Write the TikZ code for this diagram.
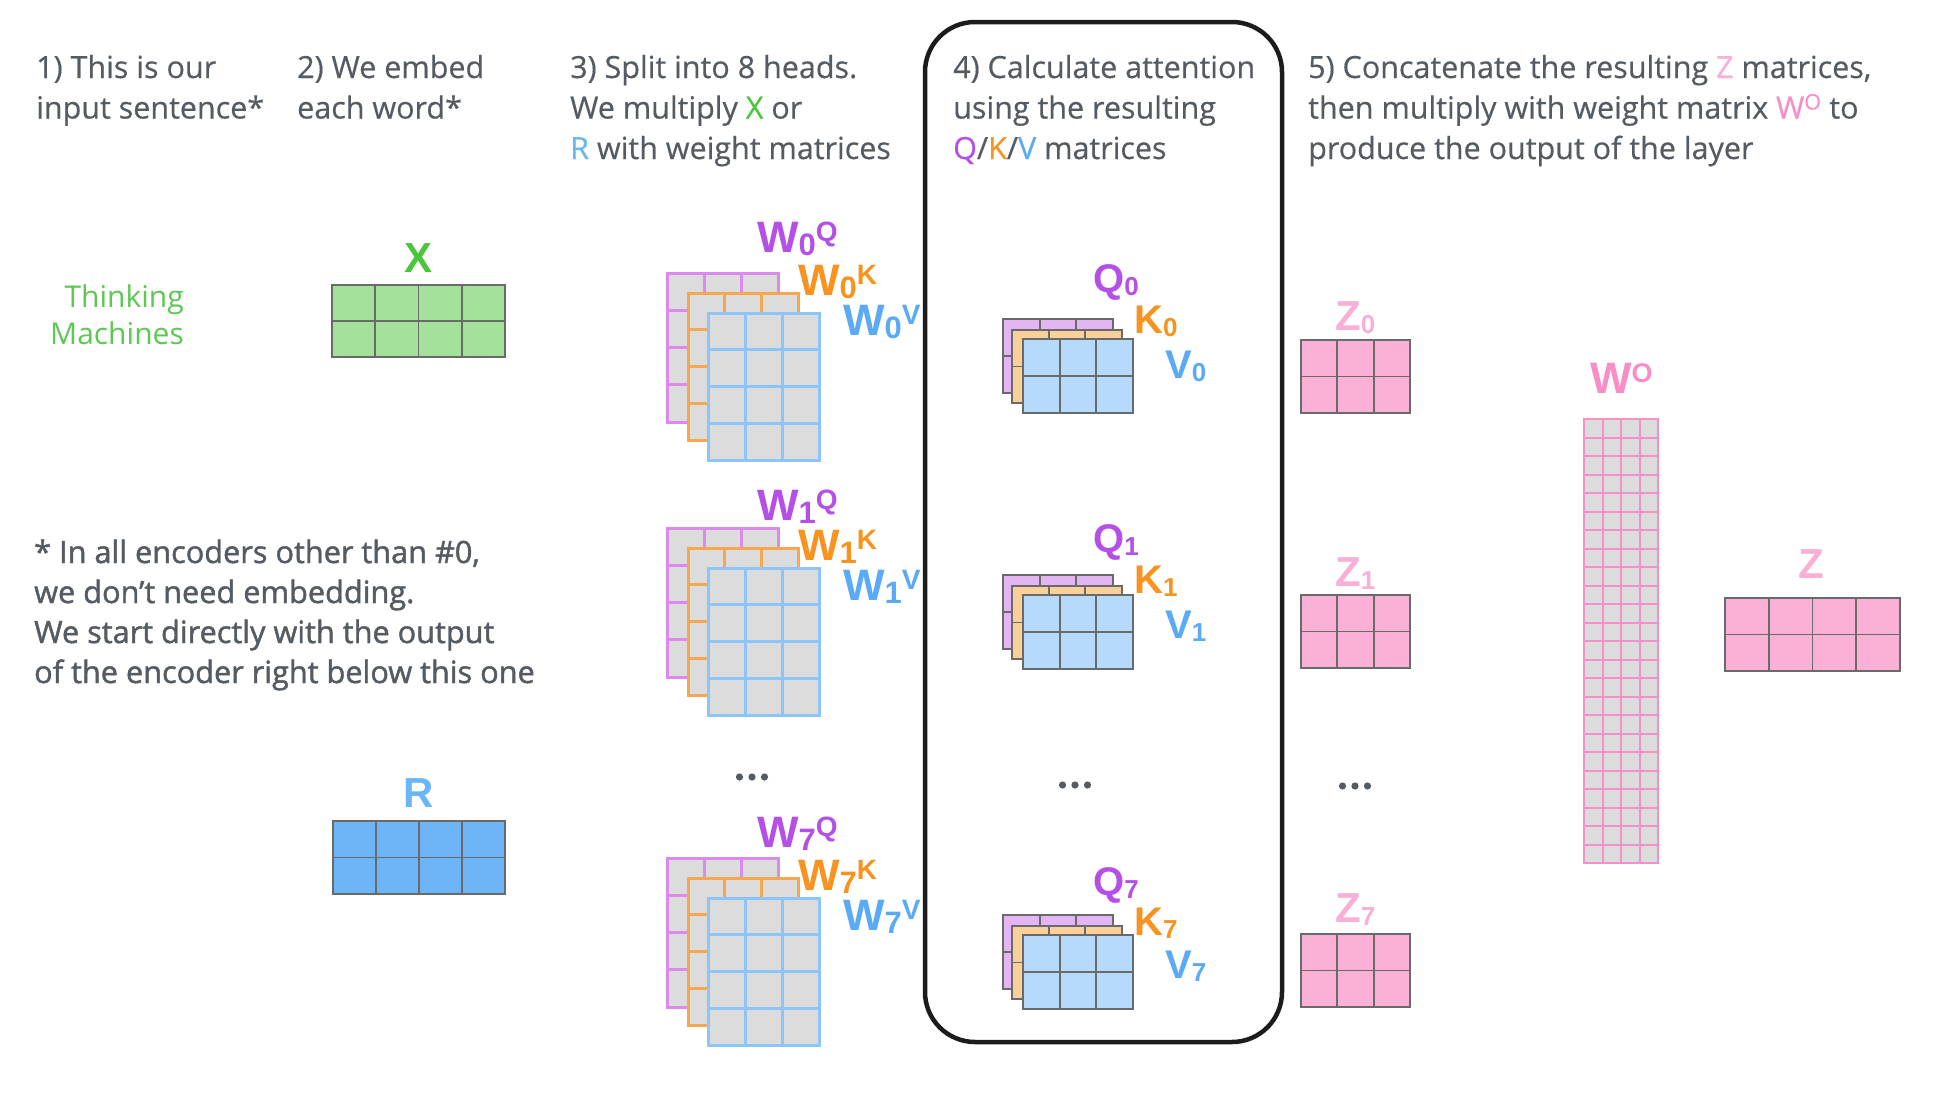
\documentclass[tikz,border=0pt]{standalone}
\usepackage{fontspec}
\setmainfont{Open Sans}
\newfontfamily\lblfont{Liberation Sans}
\newfontfamily\hdrfont[FakeBold=0.4]{Open Sans}
\newfontfamily\notefont[FakeBold=1.4]{Open Sans}
\definecolor{txt}{HTML}{555B63}
\definecolor{tmgreen}{HTML}{5DC853}
\definecolor{xgreen}{HTML}{4CC43C}
\definecolor{xfill}{HTML}{A4E29C}
\definecolor{plbl}{HTML}{B550E6}
\definecolor{pline}{HTML}{D98AEA}
\definecolor{pfill}{HTML}{E3B5F4}
\definecolor{olbl}{HTML}{F7931E}
\definecolor{oline}{HTML}{F5A84E}
\definecolor{ofill}{HTML}{FAD09A}
\definecolor{blbl}{HTML}{5AAAF6}
\definecolor{bline}{HTML}{8DC5FB}
\definecolor{bfill}{HTML}{B5DAFB}
\definecolor{rlbl}{HTML}{6BB7F5}
\definecolor{rfill}{HTML}{6DB5F6}
\definecolor{zlbl}{HTML}{F9B0D4}
\definecolor{zfill}{HTML}{FBB1D6}
\definecolor{wolbl}{HTML}{F98DC6}
\definecolor{woline}{HTML}{F691C8}
\definecolor{gridgray}{HTML}{DCDCDC}
\definecolor{matline}{HTML}{6A6A6A}
\definecolor{boxline}{HTML}{1C1C1C}
% #1 x, #2 y, #3 w, #4 h, #5 cols, #6 rows, #7 fill, #8 line colour, #9 line width
\newcommand{\matgrid}[9]{%
  \fill[#7] ({#1},{#2}) rectangle ++({#3},{#4});
  \pgfmathsetmacro{\mcw}{(#3)/(#5)}%
  \pgfmathsetmacro{\mrh}{(#4)/(#6)}%
  \pgfmathtruncatemacro{\mcl}{#5-1}%
  \pgfmathtruncatemacro{\mrl}{#6-1}%
  \foreach \ii in {1,...,\mcl}{\draw[#8,line width=#9] ({#1+\ii*\mcw},{#2}) -- ++(0,{#4});}
  \foreach \jj in {1,...,\mrl}{\draw[#8,line width=#9] ({#1},{#2+\jj*\mrh}) -- ++({#3},0);}
  \draw[#8,line width=#9] ({#1},{#2}) rectangle ++({#3},{#4});
}
\newcommand{\lsb}[2][30]{{\fontsize{#1}{#1}\selectfont\raisebox{-3pt}{#2}}}
\newcommand{\lsp}[2][28]{{\fontsize{#1}{#1}\selectfont\raisebox{11pt}{#2}}}
\begin{document}
\begin{tikzpicture}[x=1pt,y=-1pt,
  hdr/.style={anchor=base west, inner sep=0, text=txt, font=\hdrfont\fontsize{30.5}{41}\selectfont},
  note/.style={anchor=base west, inner sep=0, text=txt, font=\notefont\fontsize{30.7}{40}\selectfont},
  tm/.style={anchor=base east, inner sep=0, text=tmgreen, font=\fontsize{30}{36}\selectfont},
  lbl/.style={anchor=base west, inner sep=0, font=\lblfont\bfseries\fontsize{44}{44}\selectfont},
  qlbl/.style={anchor=base west, inner sep=0, font=\lblfont\bfseries\fontsize{40}{40}\selectfont},
  clbl/.style={anchor=base, inner sep=0, font=\lblfont\bfseries\fontsize{42}{42}\selectfont},
  zlblst/.style={anchor=base west, inner sep=0, text=zlbl, font=\lblfont\bfseries\fontsize{42}{42}\selectfont},
  dot/.style={fill=txt}
]
\useasboundingbox (0,0) rectangle (1933,1100);
\fill[white] (0,0) rectangle (1933,1100);

% headers
\node[hdr] (h1a) at (36,78) {1) This is our};
\node[hdr] (h1b) at (36,118.5) {input sentence*};
\node[hdr] (h2a) at (297,78) {2) We embed};
\node[hdr] (h2b) at (297,118.5) {each word*};
\node[hdr] (h3a) at (570,78) {3) Split into 8 heads.};
\node[hdr] (h3b) at (570,118.5) {We multiply \textcolor{xgreen}{X} or};
\node[hdr] (h3c) at (570,159) {\textcolor{rlbl}{R} with weight matrices};
\node[hdr] (h4a) at (953,78) {4) Calculate attention};
\node[hdr] (h4b) at (953,118.5) {using the resulting};
\node[hdr] (h4c) at (953,159) {\textcolor{plbl}{Q}/\textcolor{olbl}{K}/\textcolor{blbl}{V} matrices};
\node[hdr] (h5a) at (1308,78) {5) Concatenate the resulting \textcolor{zlbl}{Z} matrices,};
\node[hdr] (h5b) at (1308,118.5) {then multiply with weight matrix \textcolor{wolbl}{W\textsuperscript{O}} to};
\node[hdr] (h5c) at (1308,159) {produce the output of the layer};

% input sentence
\node[tm] (tm1) at (184,307) {Thinking};
\node[tm] (tm2) at (184,344) {Machines};

% footnote
\node[note] (n1) at (34,563) {* In all encoders other than \#0,};
\node[note] (n2) at (34,603) {we don’t need embedding.};
\node[note] (n3) at (34,643) {We start directly with the output};
\node[note] (n4) at (34,683) {of the encoder right below this one};

% X and R
\node[clbl, text=xgreen] (xl) at (419,272) {X};
\matgrid{332}{285}{173}{72}{4}{2}{xfill}{matline}{1.8}
\node[clbl, text=rlbl] (rl) at (419,807) {R};
\matgrid{333}{821}{172}{73}{4}{2}{rfill}{matline}{1.8}

% weight matrices
\foreach \g in {0,255,585}{
  \matgrid{667}{273+\g}{111}{149}{3}{4}{gridgray}{pline}{3}
  \matgrid{688}{293+\g}{110}{147}{3}{4}{gridgray}{oline}{3}
  \matgrid{708}{313+\g}{111}{147}{3}{4}{gridgray}{bline}{3}
}
\node[lbl, text=plbl] (w0q) at (757,252) {W\lsb[31]{0}\lsp{Q}};
\node[lbl, text=olbl] (w0k) at (798,295) {W\lsb[31]{0}\lsp{K}};
\node[lbl, text=blbl] (w0v) at (843,335) {W\lsb[31]{0}\lsp{V}};
\node[lbl, text=plbl] (w1q) at (757,520) {W\lsb[31]{1}\lsp{Q}};
\node[lbl, text=olbl] (w1k) at (798,560) {W\lsb[31]{1}\lsp{K}};
\node[lbl, text=blbl] (w1v) at (843,600) {W\lsb[31]{1}\lsp{V}};
\node[lbl, text=plbl] (w7q) at (757,847) {W\lsb[31]{7}\lsp{Q}};
\node[lbl, text=olbl] (w7k) at (798,890) {W\lsb[31]{7}\lsp{K}};
\node[lbl, text=blbl] (w7v) at (843,930) {W\lsb[31]{7}\lsp{V}};
\foreach \xx in {739.5,752,764.5}{\fill[dot] (\xx,777) circle (3.6pt);}

% attention box
\draw[boxline, line width=4.5pt, rounded corners=50pt] (925,22) rectangle (1282,1042);

% Q K V
\foreach \g in {0,256,596}{
  \matgrid{1003}{319+\g}{110}{74}{3}{2}{pfill}{matline}{1.8}
  \matgrid{1012}{330+\g}{110}{73}{3}{2}{ofill}{matline}{1.8}
  \matgrid{1023}{339+\g}{110}{74}{3}{2}{bfill}{matline}{1.8}
}
\node[qlbl, text=plbl] (q0) at (1093,292) {Q\lsb[26]{0}};
\node[qlbl, text=olbl] (k0) at (1134,333) {K\lsb[26]{0}};
\node[qlbl, text=blbl] (v0) at (1165,378) {V\lsb[26]{0}};
\node[qlbl, text=plbl] (q1) at (1093,552) {Q\lsb[26]{1}};
\node[qlbl, text=olbl] (k1) at (1134,593) {K\lsb[26]{1}};
\node[qlbl, text=blbl] (v1) at (1165,638) {V\lsb[26]{1}};
\node[qlbl, text=plbl] (q7) at (1093,895) {Q\lsb[26]{7}};
\node[qlbl, text=olbl] (k7) at (1134,935) {K\lsb[26]{7}};
\node[qlbl, text=blbl] (v7) at (1165,978) {V\lsb[26]{7}};
\foreach \xx in {1062.5,1075,1087.5}{\fill[dot] (\xx,785) circle (3.6pt);}

% Z matrices
\foreach \t in {340,595,934}{
  \matgrid{1301}{\t}{109}{73}{3}{2}{zfill}{matline}{1.8}
}
\node[zlblst] (z0) at (1335,330) {Z\lsb[26]{0}};
\node[zlblst] (z1) at (1335,586) {Z\lsb[26]{1}};
\node[zlblst] (z7) at (1335,922) {Z\lsb[26]{7}};
\foreach \xx in {1342.5,1355,1367.5}{\fill[dot] (\xx,786) circle (3.6pt);}

% W^O
\node[lbl, text=wolbl] (wo) at (1590,393) {W\lsp[27]{O}};
\matgrid{1584}{419}{74}{444}{4}{24}{gridgray}{woline}{2}

% final Z
\node[clbl, text=zlbl] (zf) at (1811,578) {Z};
\matgrid{1725}{598}{175}{73}{4}{2}{zfill}{matline}{1.8}
\end{tikzpicture}
\end{document}
